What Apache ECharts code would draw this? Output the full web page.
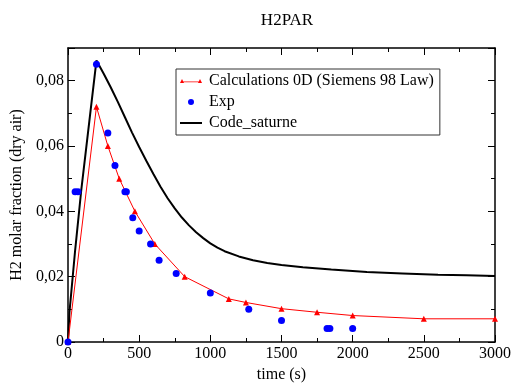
<!DOCTYPE html>
<html><head><meta charset="utf-8">
<script src="https://cdn.jsdelivr.net/npm/echarts@6/dist/echarts.min.js"></script>
<style>html,body{margin:0;padding:0;background:#fff}#c{width:515px;height:388px}</style>
</head><body><div id="c"></div>
<script>
const titleText = "H2PAR";
const xName = "time (s)";
const yName = "H2 molar fraction (dry air)";
const seriesNames = ["Calculations 0D (Siemens 98 Law)", "Exp", "Code_saturne"];

const calcT = [0, 200, 280, 360, 470, 610, 820, 1130, 1250, 1500, 1750, 2000, 2500, 3000];
const calcY = [0, 0.072, 0.060, 0.050, 0.040, 0.030, 0.020, 0.0132, 0.0121, 0.0102, 0.0091, 0.0081, 0.0071, 0.0071];

const expT = [0, 50, 70, 200, 280, 330, 400, 410, 455, 500, 580, 640, 760, 1000, 1270, 1500, 1820, 1840, 2000];
const expY = [0, 0.046, 0.046, 0.085, 0.064, 0.054, 0.046, 0.046, 0.038, 0.034, 0.030, 0.025, 0.021, 0.015, 0.010, 0.0066, 0.0041, 0.0041, 0.0041];

const codeT = [0, 10, 50, 92, 150, 200, 250, 300, 350, 400, 450, 500, 550, 600, 650, 700, 750, 800, 850, 900, 950, 1000, 1050, 1100, 1200, 1300, 1400, 1500, 1650, 1850, 2100, 2350, 2600, 2800, 3000];
const codeY = [0, 0.009, 0.028, 0.046, 0.0676, 0.0862, 0.0822, 0.0780, 0.0735, 0.0688, 0.0641, 0.0597, 0.0555, 0.0514, 0.0475, 0.0440, 0.0409, 0.0381, 0.0357, 0.0336, 0.0318, 0.0302, 0.0289, 0.0278, 0.0262, 0.0250, 0.0242, 0.0236, 0.0229, 0.0222, 0.0214, 0.0210, 0.0206, 0.0204, 0.0202];

const zip = (a, b) => a.map((v, i) => [v, b[i]]);
const font = "Liberation Serif";
const yFmt = v => v === 0 ? "0" : v.toFixed(2).replace(".", ",");
const xFmt = v => String(v);

const chart = echarts.init(document.getElementById('c'), null, {renderer: 'canvas'});
const axisCommon = {
  axisLine: {show: true, onZero: false, lineStyle: {color: '#000', width: 1.5}},
  splitLine: {show: false},
  axisTick: {show: true, inside: true, length: 7, lineStyle: {color: '#000', width: 1}},
  minorTick: {show: true, splitNumber: 2, length: 4, lineStyle: {color: '#000', width: 1}},
};
chart.setOption({
  animation: false,
  backgroundColor: '#fff',
  title: {text: titleText, left: 282, top: 7, textAlign: 'center',
    textStyle: {fontFamily: font, fontSize: 17, fontWeight: 'normal', color: '#000'}},
  grid: {left: 68, right: 20, top: 48, bottom: 40},
  legend: {
    orient: 'vertical', left: 176, top: 69, width: 286,
    backgroundColor: '#fff', borderColor: '#333', borderWidth: 1,
    padding: [4, 6, 4, 4], itemGap: 5, itemWidth: 22, itemHeight: 8,
    textStyle: {fontFamily: font, fontSize: 16, color: '#000', padding: [0, 0, 0, 2]},
    data: [
      {name: seriesNames[0], icon: 'path://M0,8 L2,4 L4,8 Z M18,8 L20,4 L22,8 Z M1,6.5 L21,6.5 L21,7.3 L1,7.3 Z'},
      {name: seriesNames[1], icon: 'path://M8,4 A3,3 0 1 1 14,4 A3,3 0 1 1 8,4 Z M0,0 L0.01,0 Z M22,8 L21.99,8 Z'},
      {name: seriesNames[2], icon: 'path://M0,3 L22,3 L22,5 L0,5 Z M0,0 L0.01,0 Z M0,8 L0.01,8 Z'}
    ]
  },
  xAxis: [
    Object.assign({}, axisCommon, {type: 'value', min: 0, max: 3000, interval: 500,
      name: xName, nameLocation: 'middle', nameGap: 25,
      nameTextStyle: {fontFamily: font, fontSize: 16, color: '#000'},
      axisLabel: {fontFamily: font, fontSize: 16, color: '#000', margin: 4, formatter: xFmt}}),
    Object.assign({}, axisCommon, {type: 'value', min: 0, max: 3000, interval: 500, position: 'top',
      axisLabel: {show: false}})
  ],
  yAxis: [
    Object.assign({}, axisCommon, {type: 'value', min: 0, max: 0.09, interval: 0.02,
      name: yName, nameLocation: 'middle', nameGap: 40, nameRotate: 90,
      nameTextStyle: {fontFamily: font, fontSize: 16, color: '#000'},
      axisLabel: {fontFamily: font, fontSize: 16, color: '#000', margin: 4, formatter: yFmt, showMaxLabel: false}}),
    Object.assign({}, axisCommon, {type: 'value', min: 0, max: 0.09, interval: 0.02, position: 'right',
      axisLabel: {show: false}})
  ],
  series: [
    {name: seriesNames[0], type: 'line', data: zip(calcT, calcY), symbol: 'triangle', symbolSize: 6,
      showAllSymbol: true,
      lineStyle: {color: '#ff0000', width: 1}, itemStyle: {color: '#ff0000'}, z: 3},
    {name: seriesNames[1], type: 'scatter', data: zip(expT, expY), symbol: 'circle', symbolSize: 7,
      itemStyle: {color: '#0000ff', opacity: 1}, z: 4},
    {name: seriesNames[2], type: 'line', data: zip(codeT, codeY), symbol: 'none', showSymbol: false,
      smooth: false,
      lineStyle: {color: '#000', width: 2}, itemStyle: {color: '#000'}, z: 2}
  ]
});
</script></body></html>
